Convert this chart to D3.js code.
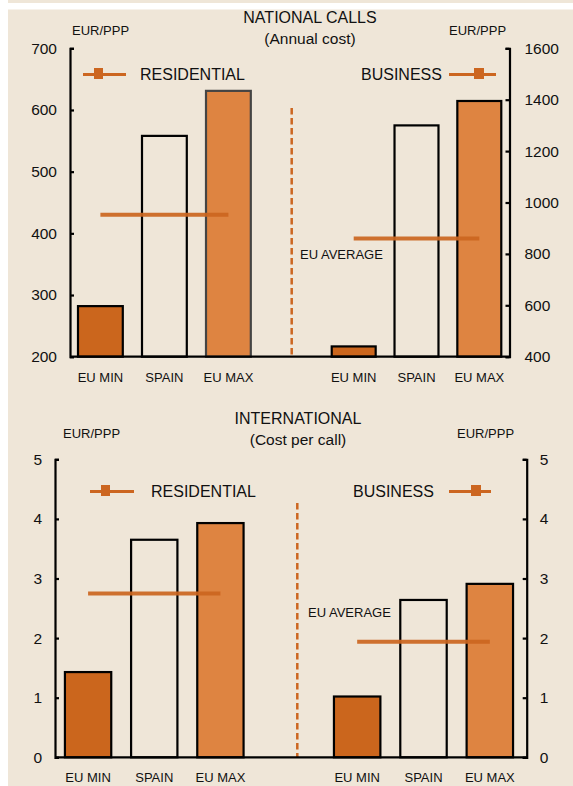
<!DOCTYPE html>
<html>
<head>
<meta charset="utf-8">
<script src="https://cdn.jsdelivr.net/npm/d3@7"></script>
<style>
  body { margin: 0; background: #fff; }
  svg text { font-family: "Liberation Sans", Arial, sans-serif; fill: #111; }
</style>
</head>
<body>
<div id="chart"></div>
<script>
// categories and values
var categories = ["EU MIN", "SPAIN", "EU MAX"];

var nationalResidential = [282, 558, 631];   // left scale
var nationalBusiness = [440, 1300, 1395];    // right scale
var nationalAverage = [430, 860];            // residential, business

var intlResidential = [1.43, 3.65, 3.93];
var intlBusiness = [1.02, 2.64, 2.91];
var intlAverage = [2.75, 1.94];

var nationalLeftTicks = [200, 300, 400, 500, 600, 700];
var nationalRightTicks = [400, 600, 800, 1000, 1200, 1400, 1600];
var intlTicks = [0, 1, 2, 3, 4, 5];

var titles = [["NATIONAL CALLS", "(Annual cost)"], ["INTERNATIONAL", "(Cost per call)"]];

var width = 573, height = 786;
var bg = "#efe6d8",
  dark = "#cb661d",
  light = "#de8441",
  avgColor = "#cc6620";

var svg = d3.select("#chart")
  .append("svg")
  .attr("width", width)
  .attr("height", height)

// frame: white strips on left and top
svg.append("rect").attr("x", 0).attr("y", 0).attr("width", width).attr("height", height).attr("fill", "#fff")
svg.append("rect").attr("x", 8).attr("y", 0).attr("width", width - 8).attr("height", 3).attr("fill", bg)
svg.append("rect").attr("x", 8).attr("y", 9.5).attr("width", width - 8).attr("height", height - 9.5).attr("fill", bg)

var fillFor = function(i) { return i == 0 ? dark : (i == 1 ? bg : light) }

function panel(cfg) {
  var g = svg.append("g")

  var yL = d3.scaleLinear().domain(cfg.leftDomain).range([cfg.bottom, cfg.top])
  var yR = d3.scaleLinear().domain(cfg.rightDomain).range([cfg.bottom, cfg.top])

  var xL = d3.scaleBand().domain(categories).range(cfg.leftRange).paddingInner(0.3).paddingOuter(0.15)
  var xR = d3.scaleBand().domain(categories).range(cfg.rightRange).paddingInner(0.3).paddingOuter(0.15)

  // titles
  g.append("text").attr("x", cfg.titleX).attr("y", cfg.titleY)
    .attr("text-anchor", "middle").style("font-size", "16px").text(cfg.title[0])
  g.append("text").attr("x", cfg.titleX).attr("y", cfg.titleY + 21)
    .attr("text-anchor", "middle").style("font-size", "15.5px").text(cfg.title[1])

  // unit labels
  g.append("text").attr("x", cfg.unitL).attr("y", cfg.unitY).style("font-size", "13px").text("EUR/PPP")
  g.append("text").attr("x", cfg.unitR).attr("y", cfg.unitY).style("font-size", "13px").text("EUR/PPP")

  // bars
  function bars(x, y, vals, group) {
    g.selectAll(".bar-" + group)
      .data(vals)
      .enter().append("rect")
      .attr("class", "bar-" + group)
      .attr("x", function(d, i) { return x(categories[i]) })
      .attr("width", x.bandwidth())
      .attr("y", function(d) { return y(d) })
      .attr("height", function(d) { return cfg.bottom - y(d) })
      .attr("fill", function(d, i) { return fillFor(i) })
      .attr("stroke", function(d, i) { return (cfg.greyMax && i == 2 && group == "l") ? "#444" : "#000" })
      .attr("stroke-width", 2.2)
  }
  bars(xL, yL, cfg.leftVals, "l")
  bars(xR, yR, cfg.rightVals, "r")

  // average lines: from first bar centre to last bar centre
  function avg(x, y, v) {
    var c0 = x(categories[0]) + x.bandwidth() / 2,
      c2 = x(categories[2]) + x.bandwidth() / 2
    g.append("line")
      .attr("x1", c0).attr("x2", c2)
      .attr("y1", y(v)).attr("y2", y(v))
      .attr("stroke", avgColor).attr("stroke-width", 4).attr("opacity", 0.92)
  }
  avg(xL, yL, cfg.avg[0])
  avg(xR, yR, cfg.avg[1])

  g.append("text").attr("x", cfg.avgLabel[0]).attr("y", cfg.avgLabel[1])
    .style("font-size", "13px").text("EU AVERAGE")

  // dashed divider
  g.append("line")
    .attr("x1", cfg.divX).attr("x2", cfg.divX)
    .attr("y1", cfg.divTop).attr("y2", cfg.bottom)
    .attr("stroke", avgColor).attr("stroke-width", 2.5)
    .attr("stroke-dasharray", "6.5,3.5")

  // baseline
  g.append("line")
    .attr("x1", cfg.axL).attr("x2", cfg.axR)
    .attr("y1", cfg.bottom).attr("y2", cfg.bottom)
    .attr("stroke", "#000").attr("stroke-width", 2.2)

  // axes
  var fmt = d3.format("d")
  var leftAxis = d3.axisLeft(yL).tickValues(cfg.leftTicks).tickFormat(fmt)
    .tickSizeInner(-4).tickSizeOuter(-4).tickPadding(13)
  var rightAxis = d3.axisRight(yR).tickValues(cfg.rightTicks).tickFormat(fmt)
    .tickSizeInner(-4).tickSizeOuter(-4).tickPadding(cfg.rPad)

  var la = g.append("g").attr("transform", "translate(" + cfg.axL + ",0)").call(leftAxis)
  var ra = g.append("g").attr("transform", "translate(" + cfg.axR + ",0)").call(rightAxis)
  ;[la, ra].forEach(function(a) {
    a.select(".domain").attr("stroke-width", 2.2)
    a.selectAll(".tick line").attr("stroke-width", 2.2)
    a.selectAll(".tick text").style("font-size", "15.5px").attr("fill", "#111")
      .style("font-family", "'Liberation Sans', Arial, sans-serif")
  })

  // category labels
  function cats(x) {
    g.selectAll(null)
      .data(categories)
      .enter().append("text")
      .attr("x", function(d) { return x(d) + x.bandwidth() / 2 })
      .attr("y", cfg.bottom + 25)
      .attr("text-anchor", "middle")
      .style("font-size", "13px")
      .text(function(d) { return d })
  }
  cats(xL)
  cats(xR)

  // legends
  function legendMark(x1, x2, sq, y, sqW, sqH) {
    g.append("line").attr("x1", x1).attr("x2", x2).attr("y1", y).attr("y2", y)
      .attr("stroke", avgColor).attr("stroke-width", 3)
    g.append("rect").attr("x", sq).attr("y", y - sqH / 2 - 1).attr("width", sqW).attr("height", sqH)
      .attr("fill", avgColor)
  }
  var lg = cfg.legend
  legendMark(lg.l[0], lg.l[1], lg.l[2], lg.y, 9, 11)
  legendMark(lg.r[0], lg.r[1], lg.r[2], lg.y, 10, 11)
  g.append("text").attr("x", lg.lt).attr("y", lg.y + 5.5).style("font-size", "16px").text("RESIDENTIAL")
  g.append("text").attr("x", lg.rt).attr("y", lg.y + 5.5).style("font-size", "16px").text("BUSINESS")
}

panel({
  title: titles[0], titleX: 310, titleY: 23,
  unitL: 72, unitR: 449, unitY: 35,
  top: 48.3, bottom: 356.7,
  leftDomain: [200, 700], rightDomain: [400, 1600],
  leftTicks: nationalLeftTicks, rightTicks: nationalRightTicks, rPad: 15,
  leftRange: [68.4, 260.4], rightRange: [322.3, 510.7],
  axL: 70, axR: 509.5,
  leftVals: nationalResidential, rightVals: nationalBusiness, greyMax: true,
  avg: nationalAverage, avgLabel: [300, 259],
  divX: 291.7, divTop: 108,
  legend: { y: 74.5, l: [83, 126, 94], r: [449, 496, 474], lt: 140, rt: 361 }
})

panel({
  title: titles[1], titleX: 298, titleY: 424,
  unitL: 63, unitR: 457, unitY: 438,
  top: 459.3, bottom: 757.3,
  leftDomain: [0, 5], rightDomain: [0, 5],
  leftTicks: intlTicks, rightTicks: intlTicks, rPad: 13,
  leftRange: [55, 253.5], rightRange: [324, 523],
  axL: 55, axR: 526.7,
  leftVals: intlResidential, rightVals: intlBusiness, greyMax: false,
  avg: intlAverage, avgLabel: [308, 617],
  divX: 297.3, divTop: 503,
  legend: { y: 491.5, l: [90, 134, 101], r: [449, 491, 471], lt: 151, rt: 353 }
})
</script>
</body>
</html>
